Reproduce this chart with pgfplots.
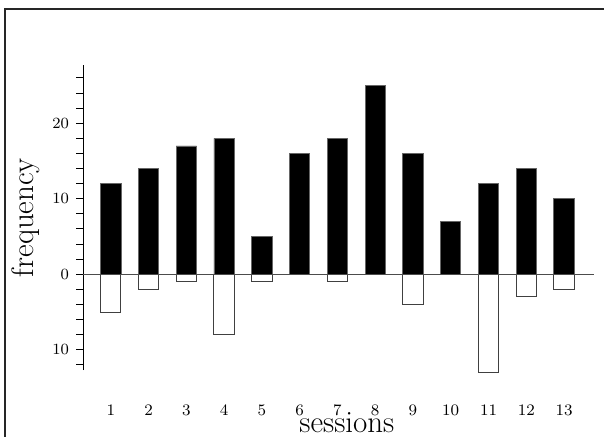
\documentclass[border=0pt]{standalone}
\usepackage{pgfplots}
\pgfplotsset{compat=1.18}
\begin{document}
\begin{tikzpicture}
\begin{axis}[
  x=18.885pt, y=3.775pt,
  anchor=origin, at={(0,0)},
  xmin=0.264, xmax=13.79,
  ymin=-12.7, ymax=27.7,
  clip=false,
  axis lines=left,
  axis line style={-, line width=0.5pt, black},
  x axis line style={draw=none},
  xtick={1,...,13},
  major x tick style={draw=none},
  xticklabel style={font=\fontsize{8.5}{10}\selectfont, yshift=-10.5pt},
  ytick={-10,0,10,20},
  yticklabels={10,0,10,20},
  minor ytick={-12,-8,-6,-4,-2,2,4,6,8,12,14,16,18,22,24,26},
  tick align=outside,
  major tick length=3.5pt, minor tick length=3.5pt,
  y tick style={line width=0.5pt, black},
  yticklabel style={font=\fontsize{7.8}{9}\selectfont},
  ybar, bar width=10.15pt, bar shift=0pt,
]
\addplot[ybar, fill=black, draw=black!60, line width=0.4pt] coordinates {
 (1,12) (2,14) (3,17) (4,18) (5,5) (6,16) (7,18) (8,25) (9,16) (10,7) (11,12) (12,14) (13,10)};
\addplot[ybar, fill=white, draw=black!75, line width=0.5pt] coordinates {
 (1,-5) (2,-2) (3,-1) (4,-8) (5,-1) (7,-1) (9,-4) (11,-13) (12,-3) (13,-2)};
\addplot[sharp plot, no marks, draw=black!70, line width=0.6pt] coordinates {(0.264,0) (13.79,0)};
\draw[black!85, line width=0.6pt] (axis cs:-1.801,-25) -- (axis cs:-1.801,35.14) -- (axis cs:15,35.14);
\node[anchor=base, font=\fontsize{15.5}{18}\selectfont] at (axis cs:7.25,-21.0) {sessions};
\node[anchor=base, rotate=90, font=\fontsize{15.5}{18}\selectfont] at (axis cs:-1.06,7.52) {frequency};
\coordinate (bbA) at (axis cs:-1.934,-21.55);
\coordinate (bbB) at (axis cs:14.058,36.33);
\end{axis}
\pgfresetboundingbox
\useasboundingbox (bbA) rectangle (bbB);
\end{tikzpicture}
\end{document}
